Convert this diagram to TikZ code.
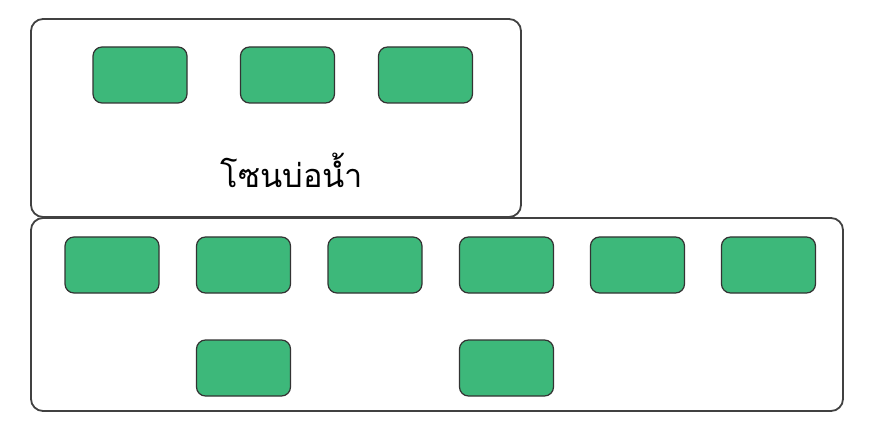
\documentclass[tikz,border=0pt]{standalone}
\usepackage{fontspec}
\newfontfamily\thaifont[Script=Thai]{Loma}
\definecolor{pondgreen}{RGB}{61,184,122}
\definecolor{zoneedge}{RGB}{65,65,65}

\begin{document}
\begin{tikzpicture}[x=1pt,y=-1pt]
        \tikzstyle{zone}=[draw=zoneedge,line width=1.8pt,rounded corners=12pt]
        \tikzstyle{pond}=[draw=black!80,line width=1.2pt,fill=pondgreen,rounded corners=9pt,
                          minimum width=94pt,minimum height=56pt,inner sep=0pt]

        \useasboundingbox (0,0) rectangle (871,425);

        \node[zone,minimum width=490pt,minimum height=198pt] (Z-top) at (276,118) {};
        \node[zone,minimum width=812pt,minimum height=193pt] (Z-bottom) at (437,314.5) {};

        \foreach \name/\x/\y in {T-1/140/75, T-2/287.5/75, T-3/425.5/75,
                                 B-1/112/265, B-2/243.5/265, B-3/375/265,
                                 B-4/506.5/265, B-5/637.5/265, B-6/768.5/265,
                                 C-1/243.5/368, C-2/506.5/368}
          \node[pond] (\name) at (\x,\y) {};

        \node[font=\thaifont\fontsize{32.5}{40}\selectfont,anchor=base] (label) at (292,188) {โซนบ่อน้ำ};
      \end{tikzpicture}
\end{document}
